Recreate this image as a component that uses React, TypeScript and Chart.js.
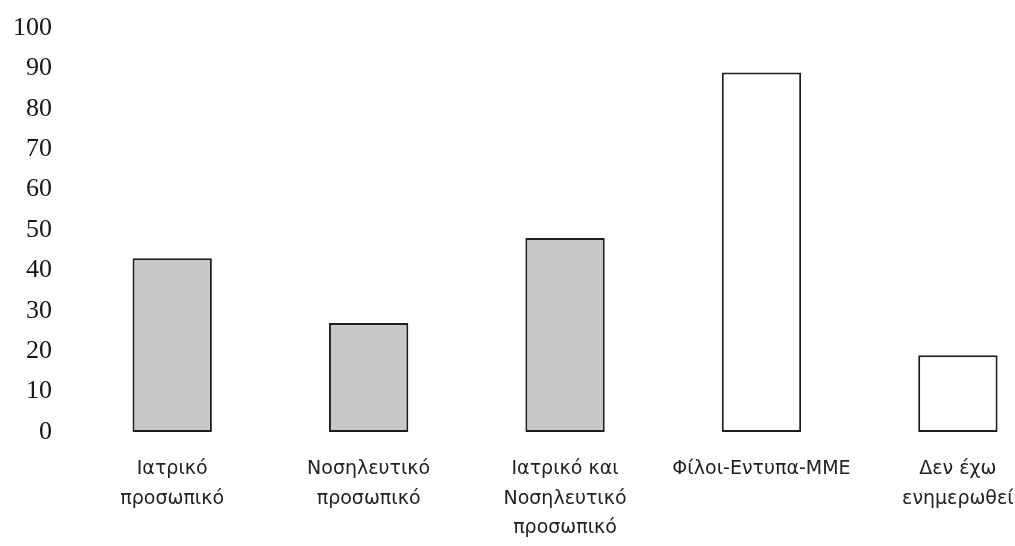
import React, { useEffect, useRef } from 'react';
import { Chart, registerables } from 'chart.js';

Chart.register(...registerables);

const categories: string[][] = [
  ['Ιατρικό', 'προσωπικό'],
  ['Νοσηλευτικό', 'προσωπικό'],
  ['Ιατρικό και', 'Νοσηλευτικό', 'προσωπικό'],
  ['Φίλοι-Εντυπα-ΜΜΕ'],
  ['Δεν έχω', 'ενημερωθεί'],
];
const values: number[] = [43, 27, 48, 89, 19];
const barFills: string[] = ['#c8c8c8', '#c8c8c8', '#c8c8c8', '#ffffff', '#ffffff'];
const yMin = 0;
const yMax = 100;
const yStep = 10;

export default function App() {
  const canvasRef = useRef<HTMLCanvasElement | null>(null);

  useEffect(() => {
    if (!canvasRef.current) return;
    const chart = new Chart(canvasRef.current, {
      type: 'bar',
      data: {
        datasets: [
          {
            data: values.map((v, i) => ({ x: i, y: v })),
            backgroundColor: barFills,
            borderColor: '#1e1e1e',
            borderWidth: 2,
            borderSkipped: false,
            barPercentage: 0.404,
            categoryPercentage: 1,
          },
        ],
      },
      options: {
        animation: false,
        responsive: true,
        maintainAspectRatio: false,
        layout: { padding: { top: 28, right: 8, bottom: 0, left: 0 } },
        plugins: { legend: { display: false }, tooltip: { enabled: false } },
        scales: {
          x: {
            type: 'linear',
            offset: false,
            min: -0.5,
            max: 4.25,
            grid: { display: false },
            border: { display: false },
            ticks: {
              stepSize: 1,
              includeBounds: false,
              autoSkip: false,
              maxRotation: 0,
              minRotation: 0,
              padding: 15,
              color: '#222',
              font: { family: '"DejaVu Sans"', size: 19, lineHeight: 1.53 },
              callback: (v: any) => {
                const i = Number(v);
                return Number.isInteger(i) && categories[i] ? categories[i] : '';
              },
            },
            afterFit: (s: any) => {
              s.height = 114;
              s.paddingLeft = 0;
              s.paddingRight = 0;
            },
          },
          y: {
            min: yMin,
            max: yMax,
            grid: { display: false },
            border: { display: false },
            ticks: {
              stepSize: yStep,
              padding: 14,
              color: '#151515',
              font: { family: '"Liberation Serif"', size: 26 },
            },
            afterFit: (s: any) => {
              s.width = 74;
              s.paddingTop = 0;
              s.paddingBottom = 0;
            },
          },
        },
      },
    } as any);
    return () => chart.destroy();
  }, []);

  return (
    <div style={{ position: 'fixed', left: 0, top: 0, width: 1015, height: 546, background: '#fff' }}>
      <canvas ref={canvasRef} />
    </div>
  );
}
